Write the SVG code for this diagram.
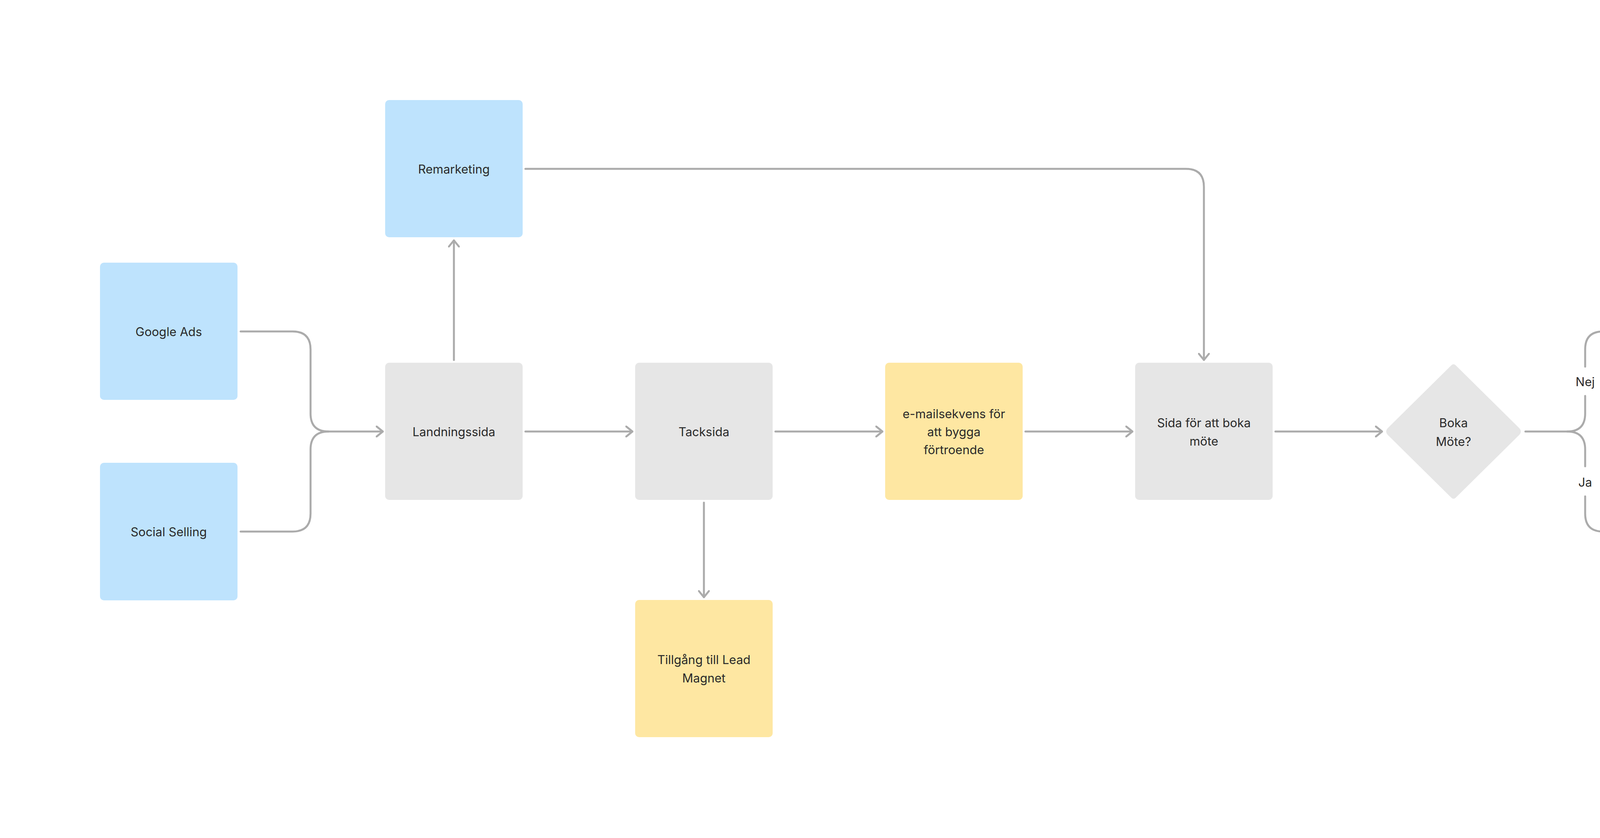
<svg xmlns="http://www.w3.org/2000/svg" width="6202" height="2144" viewBox="0 0 6202 2144">
<style>
.b{fill:#bee3fd}.g{fill:#e6e6e6}.y{fill:#fee7a2}
text{font-family:Inter,"Noto Sans",sans-serif;font-size:31px;fill:#2a2a2a;text-anchor:middle;dominant-baseline:central}
.c path{fill:none;stroke:#ababab;stroke-width:5;stroke-linecap:round}
</style>
<defs><marker id="a" viewBox="0 0 20 30" refX="18" refY="15" markerWidth="20" markerHeight="30" markerUnits="userSpaceOnUse" orient="auto"><path d="M2,2 L18,15 L2,28" fill="none" stroke="#ababab" stroke-width="5" stroke-linecap="round" stroke-linejoin="round"/></marker></defs>
<rect width="6202" height="2144" fill="#fff"/>
<g id="google"><rect class="b" x="256" y="672" width="352" height="351" rx="10"/><text x="432" y="848">Google Ads</text></g>
<g id="social"><rect class="b" x="256" y="1184" width="352" height="352" rx="10"/><text x="432" y="1360">Social Selling</text></g>
<g id="remarketing"><rect class="b" x="986" y="256" width="352" height="351" rx="10"/><text x="1162" y="432">Remarketing</text></g>
<g id="landning"><rect class="g" x="986" y="928" width="352" height="351" rx="10"/><text x="1162" y="1104">Landningssida</text></g>
<g id="tack"><rect class="g" x="1626" y="928" width="352" height="351" rx="10"/><text x="1802" y="1104">Tacksida</text></g>
<g id="tillgang"><rect class="y" x="1626" y="1535" width="352" height="351" rx="10"/><text x="1802" y="1687">Tillgång till Lead</text><text x="1802" y="1734">Magnet</text></g>
<g id="email"><rect class="y" x="2266" y="928" width="352" height="351" rx="10"/><text x="2442" y="1058">e-mailsekvens för</text><text x="2442" y="1104">att bygga</text><text x="2442" y="1150">förtroende</text></g>
<g id="sida"><rect class="g" x="2906" y="928" width="352" height="351" rx="10"/><text x="3082" y="1081">Sida för att boka</text><text x="3082" y="1128">möte</text></g>
<g id="boka"><path class="g" d="M3714,936 Q3721,928 3728,936 L3890,1096 Q3897,1104 3890,1112 L3728,1272 Q3721,1280 3714,1272 L3552,1112 Q3545,1104 3552,1096 Z"/><text x="3721" y="1081">Boka</text><text x="3721" y="1129">Möte?</text></g>
<g id="nurturing"><rect class="y" x="4378" y="672" width="352" height="351" rx="10"/><text x="4554" y="848">Nurturingflöde</text></g>
<g id="fragor"><rect class="g" x="4378" y="1184" width="352" height="352" rx="10"/><text x="4554" y="1360">Frågeformulär</text></g>
<g id="mote"><circle class="g" cx="5193" cy="1360" r="176"/><text x="5193" y="1360">Möte</text></g>
<g id="onboarding"><rect class="y" x="5592" y="1184" width="352" height="352" rx="10"/><text x="5768" y="1360">Onboardingflöde</text></g>
<g class="c" id="connectors">
<path d="M616,848 H749 Q795,848 795,894 V1058 Q795,1104 841,1104 H980" marker-end="url(#a)"/>
<path d="M616,1360 H749 Q795,1360 795,1314 V1150 Q795,1104 841,1104"/>
<path d="M1162,921 V615" marker-end="url(#a)"/>
<path d="M1345,432 H3036 Q3082,432 3082,478 V921" marker-end="url(#a)"/>
<path d="M1345,1104 H1619" marker-end="url(#a)"/>
<path d="M1802,1286 V1528" marker-end="url(#a)"/>
<path d="M1985,1104 H2259" marker-end="url(#a)"/>
<path d="M2625,1104 H2899" marker-end="url(#a)"/>
<path d="M3265,1104 H3538" marker-end="url(#a)"/>
<path d="M3905,1104 H4012 Q4058,1104 4058,1058 V1013"/>
<path d="M4058,938 V894 Q4058,848 4104,848 H4371" marker-end="url(#a)"/>
<path d="M4012,1104 Q4058,1104 4058,1150 V1193"/>
<path d="M4058,1270 V1314 Q4058,1360 4104,1360 H4371" marker-end="url(#a)"/>
<path d="M4737,1360 H5011" marker-end="url(#a)"/>
<path d="M5375,1360 H5585" marker-end="url(#a)"/>
</g>
<text x="4058" y="976">Nej</text>
<text x="4058" y="1233">Ja</text>
</svg>
